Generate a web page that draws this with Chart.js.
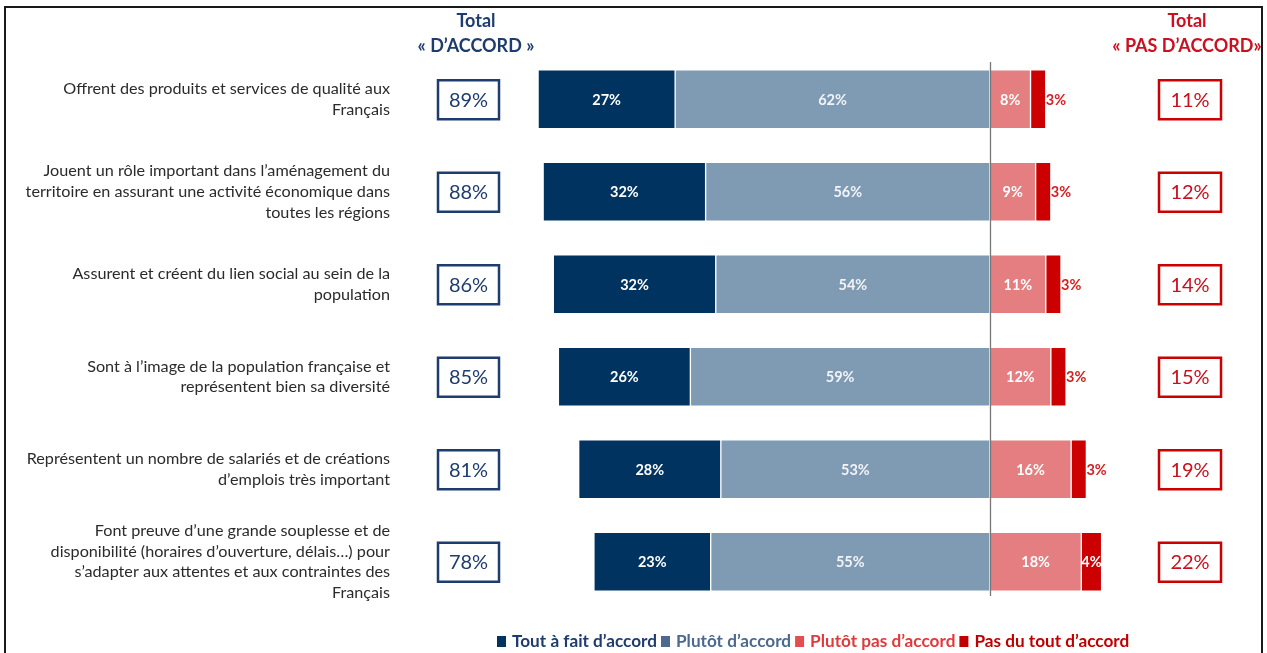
<!DOCTYPE html>
<html>
<head>
<meta charset="utf-8">
<script src="https://cdn.jsdelivr.net/npm/chart.js@4/dist/chart.umd.min.js"></script>
<style>
  body { margin: 0; background: #fff; }
  #wrap { width: 1267px; height: 653px; position: relative; }
</style>
</head>
<body>
<div id="wrap"><canvas id="chart" width="1267" height="653"></canvas></div>
<script>
const categories = [
  ['Offrent des produits et services de qualité aux', 'Français'],
  ['Jouent un rôle important dans l\u2019aménagement du', 'territoire en assurant une activité économique dans', 'toutes les régions'],
  ['Assurent et créent du lien social au sein de la', 'population'],
  ['Sont à l\u2019image de la population française et', 'représentent bien sa diversité'],
  ['Représentent un nombre de salariés et de créations', 'd\u2019emplois très important'],
  ['Font preuve d\u2019une grande souplesse et de', 'disponibilité (horaires d\u2019ouverture, délais\u2026) pour', 's\u2019adapter aux attentes et aux contraintes des', 'Français']
];
const toutAFait = [27, 32, 32, 26, 28, 23];
const plutotAccord = [62, 56, 54, 59, 53, 55];
const plutotPas = [8, 9, 11, 12, 16, 18];
const pasDuTout = [3, 3, 3, 3, 3, 4];
const totalAccord = [89, 88, 86, 85, 81, 78];
const totalPasAccord = [11, 12, 14, 15, 19, 22];

const NAVY = '#00335f';
const SLATE = '#7f9ab3';
const PINK = '#e47e80';
const RED = '#cc0000';
const FONT = 'Lato';

const extras = {
  id: 'extras',
  beforeDraw(chart) {
    const ctx = chart.ctx;
    ctx.save();
    ctx.fillStyle = '#fff';
    ctx.fillRect(0, 0, chart.width, chart.height);
    ctx.strokeStyle = '#1a1a1a';
    ctx.lineWidth = 2;
    ctx.strokeRect(5, 7, 1257, 700);
    ctx.restore();
  },
  afterDatasetsDraw(chart) {
    const ctx = chart.ctx;
    const x = chart.scales.x;
    const y = chart.scales.y;
    ctx.save();

    // centre line
    const x0 = Math.round(x.getPixelForValue(0)) + 0.5;
    ctx.strokeStyle = '#777';
    ctx.lineWidth = 1.3;
    ctx.beginPath();
    ctx.moveTo(x0, 62);
    ctx.lineTo(x0, 596);
    ctx.stroke();

    // segment labels
    ctx.font = 'bold 14.5px ' + FONT;
    ctx.textBaseline = 'middle';
    chart.data.datasets.forEach((ds, di) => {
      const meta = chart.getDatasetMeta(di);
      meta.data.forEach((bar, i) => {
        const v = Math.abs(ds.data[i]);
        const txt = v + '%';
        const left = Math.min(bar.x, bar.base);
        const right = Math.max(bar.x, bar.base);
        if (di === 3 && v < 4) {
          ctx.fillStyle = '#d42020';
          ctx.textAlign = 'left';
          ctx.fillText(txt, right, bar.y + 1);
        } else {
          ctx.fillStyle = di === 0 ? '#f2f4f7' : '#ffffff';
          ctx.textAlign = 'center';
          ctx.fillText(txt, (left + right) / 2, bar.y + 1);
        }
      });
    });

    // category labels and total boxes
    categories.forEach((lines, i) => {
      const cy = y.getPixelForValue(i);
      ctx.font = '16.2px ' + FONT;
      ctx.fillStyle = '#2b2b2b';
      ctx.textAlign = 'right';
      const lh = 20.7;
      const start = cy - (lines.length - 1) * lh / 2;
      lines.forEach((l, k) => ctx.fillText(l, 390, start + k * lh));

      ctx.lineWidth = 2.5;
      ctx.strokeStyle = '#1e3c6e';
      ctx.strokeRect(438, cy - 19, 61, 39);
      ctx.strokeStyle = RED;
      ctx.strokeRect(1159, cy - 19, 62, 39);
      ctx.font = '20px ' + FONT;
      ctx.textAlign = 'center';
      ctx.fillStyle = '#1e3c6e';
      ctx.fillText(totalAccord[i] + '%', 468.5, cy + 1);
      ctx.fillStyle = '#c8101e';
      ctx.fillText(totalPasAccord[i] + '%', 1190, cy + 1);
    });

    // headers
    ctx.font = 'bold 18px ' + FONT;
    ctx.textAlign = 'center';
    ctx.fillStyle = '#1e3c6e';
    ctx.fillText('Total', 476, 21);
    ctx.fillText('« D\u2019ACCORD »', 476, 46);
    ctx.fillStyle = '#cc1020';
    ctx.fillText('Total', 1187, 21);
    ctx.fillText('« PAS D\u2019ACCORD»', 1187, 46);

    // legend
    const legend = [
      ['Tout à fait d\u2019accord', NAVY, '#1e3c6e'],
      ['Plutôt d\u2019accord', '#4b6a8e', '#4b6a8e'],
      ['Plutôt pas d\u2019accord', '#e05050', '#e03a3a'],
      ['Pas du tout d\u2019accord', '#c00000', '#c00000']
    ];
    ctx.font = 'bold 17.2px ' + FONT;
    ctx.textAlign = 'left';
    let lx = 497;
    legend.forEach(([t, sq, col]) => {
      ctx.fillStyle = sq;
      ctx.fillRect(lx, 636, 9, 11);
      ctx.fillStyle = col;
      ctx.fillText(t, lx + 15, 641);
      lx += 15 + ctx.measureText(t).width + 4;
    });

    ctx.restore();
  }
};

new Chart(document.getElementById('chart').getContext('2d'), {
  type: 'bar',
  data: {
    labels: categories.map(c => c.join(' ')),
    datasets: [
      { label: 'Plutôt d\u2019accord', data: plutotAccord.map(v => -v), backgroundColor: SLATE },
      { label: 'Tout à fait d\u2019accord', data: toutAFait.map(v => -v), backgroundColor: NAVY },
      { label: 'Plutôt pas d\u2019accord', data: plutotPas, backgroundColor: PINK },
      { label: 'Pas du tout d\u2019accord', data: pasDuTout, backgroundColor: RED }
    ]
  },
  options: {
    indexAxis: 'y',
    responsive: false,
    animation: false,
    layout: { padding: { left: 533, right: 74, top: 53, bottom: 45 } },
    datasets: {
      bar: {
        barThickness: 59,
        borderColor: '#ffffff',
        borderWidth: 1,
        borderSkipped: false
      }
    },
    scales: {
      x: { stacked: true, min: -90, max: 40, display: false },
      y: { stacked: true, display: false }
    },
    plugins: {
      legend: { display: false },
      tooltip: { enabled: false }
    }
  },
  plugins: [extras]
});
</script>
</body>
</html>
